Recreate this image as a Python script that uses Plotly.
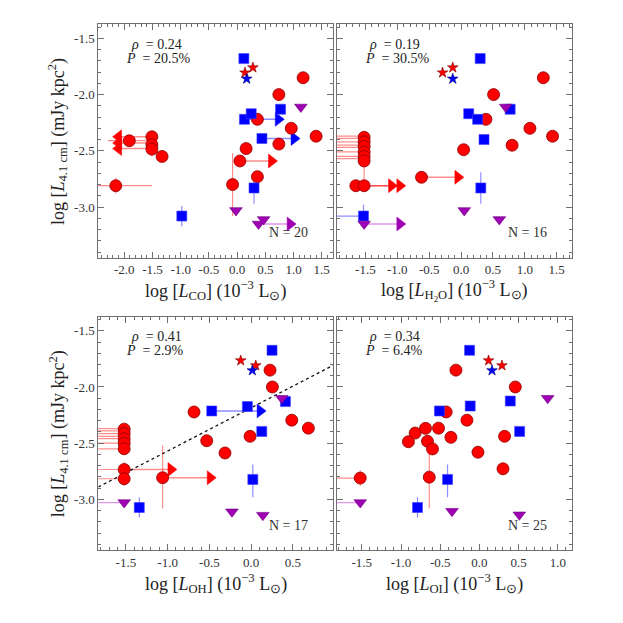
import plotly.graph_objects as go

# ---------- data ----------
y_ticks = [-3.0, -2.5, -2.0, -1.5]

# panel 1 : log L_CO
co_circ_x = [1.17, 0.74, 0.36, 0.96, 1.40, 0.74, 0.16, 0.05, -0.08, 0.36, -1.91, -1.51, -1.51, -1.51, -1.33, -2.15]
co_circ_y = [-1.85, -2.00, -2.22, -2.30, -2.37, -2.44, -2.48, -2.59, -2.80, -2.73, -2.41, -2.375, -2.445, -2.485, -2.55, -2.81]
co_sq_x = [0.12, 0.13, 0.25, 0.77, 0.44, 0.30, -0.98]
co_sq_y = [-1.68, -2.22, -2.17, -2.13, -2.39, -2.83, -3.08]
co_tri_x = [1.13, -0.02, 0.38, 0.47]
co_tri_y = [-2.11, -3.03, -3.15, -3.11]
co_rstar_x = [0.14, 0.28]
co_rstar_y = [-1.805, -1.76]
co_bstar_x = [0.17]
co_bstar_y = [-1.86]
# arrows (y, from x, to x)
co_arr_red = [(-2.59, 0.05, 0.61)]
co_arr_blue = [(-2.22, 0.13, 0.73), (-2.39, 0.44, 1.01)]
co_arr_pur = [(-3.15, 0.47, 0.94)]
co_arr_left = [(-2.375, -1.51, -2.10), (-2.43, -1.51, -2.10), (-2.48, -1.51, -2.10)]
# error bars: vertical (x, ylo, yhi), horizontal (y, xlo, xhi)
co_ev_red = [(0.16, -2.52, -2.44), (-0.08, -3.08, -2.52), (0.36, -2.78, -2.68), (-2.15, -2.88, -2.74), (-1.51, -2.55, -2.485)]
co_eh_red = [(-2.81, -2.60, -1.51), (-2.41, -2.29, -1.51)]
co_ev_blue = [(0.30, -2.97, -2.69), (-0.98, -3.17, -2.99)]
co_eh_blue = []
co_eh_pur = []

# panel 2 : log L_H2O
h2o_circ_x = [1.29, 0.51, 0.39, 1.08, 1.435, 0.80, 0.04, -0.62, -1.65, -1.52, -1.52, -1.52, -1.52, -1.52, -1.52, -1.52]
h2o_circ_y = [-1.85, -2.00, -2.22, -2.30, -2.37, -2.45, -2.49, -2.735, -2.81, -2.81, -2.38, -2.42, -2.46, -2.51, -2.55, -2.59]
h2o_sq_x = [0.30, 0.12, 0.26, 0.77, 0.36, 0.31, -1.53]
h2o_sq_y = [-1.68, -2.17, -2.22, -2.13, -2.40, -2.83, -3.08]
h2o_tri_x = [0.70, 0.05, 0.60, -1.52]
h2o_tri_y = [-2.11, -3.03, -3.11, -3.15]
h2o_rstar_x = [-0.29, -0.13]
h2o_rstar_y = [-1.805, -1.76]
h2o_bstar_x = [-0.13]
h2o_bstar_y = [-1.86]
h2o_arr_red = [(-2.735, -0.62, -0.05), (-2.81, -1.52, -1.09), (-2.81, -1.52, -0.96)]
h2o_arr_blue = []
h2o_arr_pur = [(-3.15, -1.52, -0.96)]
h2o_arr_left = []
h2o_ev_red = [(0.04, -2.53, -2.45), (-0.62, -2.78, -2.69), (-1.65, -2.86, -2.76), (-1.52, -2.81, -2.59)]
h2o_eh_red = [(-2.37, -2.5, -1.52), (-2.39, -2.5, -1.52), (-2.42, -2.5, -1.52), (-2.45, -2.5, -1.52),
              (-2.47, -2.5, -1.52), (-2.51, -2.5, -1.52), (-2.55, -2.5, -1.52), (-2.57, -2.5, -1.52)]
h2o_ev_blue = [(0.31, -2.97, -2.69), (-1.53, -3.08, -2.98)]
h2o_eh_blue = [(-3.08, -2.5, -1.53)]
h2o_eh_pur = []

# panel 3 : log L_OH
oh_circ_x = [0.226, 0.254, -0.684, 0.486, 0.685, -0.013, -0.532, -0.313, -1.52, -1.52, -1.52, -1.52, -1.52, -1.52, -1.52, -1.06]
oh_circ_y = [-1.85, -2.00, -2.222, -2.295, -2.366, -2.439, -2.478, -2.587, -2.375, -2.415, -2.46, -2.50, -2.55, -2.734, -2.816, -2.807]
oh_sq_x = [0.25, -0.472, -0.045, 0.41, 0.127, 0.02, -1.339]
oh_sq_y = [-1.674, -2.213, -2.174, -2.13, -2.395, -2.822, -3.072]
oh_tri_x = [0.366, -1.52, -0.23, 0.14]
oh_tri_y = [-2.10, -3.028, -3.11, -3.14]
oh_rstar_x = [-0.125, 0.055]
oh_rstar_y = [-1.765, -1.809]
oh_bstar_x = [0.014]
oh_bstar_y = [-1.853]
oh_arr_red = [(-2.734, -1.52, -0.96), (-2.807, -1.06, -0.49)]
oh_arr_blue = [(-2.213, -0.472, 0.107)]
oh_arr_pur = []
oh_arr_left = []
oh_ev_red = [(-1.52, -2.79, -2.67), (-1.52, -2.88, -2.75), (-1.06, -3.08, -2.52), (-0.313, -2.63, -2.55)]
oh_eh_red = [(-2.37, -2.5, -1.52), (-2.39, -2.5, -1.52), (-2.415, -2.5, -1.52), (-2.44, -2.5, -1.52),
             (-2.46, -2.5, -1.52), (-2.50, -2.5, -1.52), (-2.55, -2.5, -1.52), (-2.734, -2.5, -1.52), (-2.816, -2.5, -1.52)]
oh_ev_blue = [(0.02, -2.98, -2.69), (-1.339, -3.16, -2.98)]
oh_eh_blue = [(-3.072, -1.40, -1.28)]
oh_eh_pur = [(-3.028, -2.5, -1.52)]
oh_fit_slope = 0.385
oh_fit_icpt = -2.185

# panel 4 : log L_OI
oi_circ_x = [-0.30, 0.457, -0.424, -0.16, -0.82, -0.688, -0.522, -0.906, -0.663, -0.364, -0.599, -0.019, 0.32, 0.30, -0.64, -1.52]
oi_circ_y = [-1.85, -2.00, -2.222, -2.295, -2.41, -2.368, -2.366, -2.487, -2.483, -2.448, -2.551, -2.58, -2.439, -2.728, -2.802, -2.81]
oi_sq_x = [-0.126, -0.118, -0.51, 0.393, 0.512, -0.407, -0.79]
oi_sq_y = [-1.674, -2.169, -2.213, -2.125, -2.395, -2.822, -3.072]
oi_tri_x = [0.87, -1.52, -0.35, 0.508]
oi_tri_y = [-2.10, -3.028, -3.105, -3.137]
oi_rstar_x = [0.116, 0.287]
oi_rstar_y = [-1.765, -1.809]
oi_bstar_x = [0.16]
oi_bstar_y = [-1.853]
oi_arr_red = []
oi_arr_blue = []
oi_arr_pur = []
oi_arr_left = []
oi_ev_red = [(-0.64, -3.08, -2.55), (0.30, -2.78, -2.68), (-0.906, -2.53, -2.45), (-0.019, -2.62, -2.54), (-1.52, -2.88, -2.74)]
oi_eh_red = [(-2.81, -2.5, -1.52)]
oi_ev_blue = [(-0.407, -2.98, -2.69), (-0.79, -3.16, -2.98)]
oi_eh_blue = []
oi_eh_pur = [(-3.028, -2.5, -1.52)]

stats = [("0.24", "20.5%", "20"), ("0.19", "30.5%", "16"), ("0.41", "2.9%", "17"), ("0.34", "6.4%", "25")]
x_ranges = [[-2.46, 1.70], [-1.95, 1.74], [-1.83, 0.98], [-1.82, 1.18]]
x_ticks = [[-2.0, -1.5, -1.0, -0.5, 0.0, 0.5, 1.0, 1.5],
           [-1.5, -1.0, -0.5, 0.0, 0.5, 1.0, 1.5],
           [-1.5, -1.0, -0.5, 0.0, 0.5],
           [-1.5, -1.0, -0.5, 0.0, 0.5, 1.0]]
x_names = ["CO", "H<sub>2</sub>O", "OH", "OI"]

# ---------- styling ----------
RED = "#ff0000"
BLUE = "#0000ff"
PUR = "#a000b4"
LRED = "rgba(255,0,0,0.45)"
LBLUE = "rgba(0,0,255,0.45)"
LPUR = "rgba(200,80,220,0.6)"
FONT = "Liberation Serif"
FRAME = "#707070"

panels = [
    dict(cx=co_circ_x, cy=co_circ_y, sx=co_sq_x, sy=co_sq_y, tx=co_tri_x, ty=co_tri_y,
         rsx=co_rstar_x, rsy=co_rstar_y, bsx=co_bstar_x, bsy=co_bstar_y,
         ar=co_arr_red, ab=co_arr_blue, ap=co_arr_pur, al=co_arr_left,
         evr=co_ev_red, ehr=co_eh_red, evb=co_ev_blue, ehb=co_eh_blue, ehp=co_eh_pur),
    dict(cx=h2o_circ_x, cy=h2o_circ_y, sx=h2o_sq_x, sy=h2o_sq_y, tx=h2o_tri_x, ty=h2o_tri_y,
         rsx=h2o_rstar_x, rsy=h2o_rstar_y, bsx=h2o_bstar_x, bsy=h2o_bstar_y,
         ar=h2o_arr_red, ab=h2o_arr_blue, ap=h2o_arr_pur, al=h2o_arr_left,
         evr=h2o_ev_red, ehr=h2o_eh_red, evb=h2o_ev_blue, ehb=h2o_eh_blue, ehp=h2o_eh_pur),
    dict(cx=oh_circ_x, cy=oh_circ_y, sx=oh_sq_x, sy=oh_sq_y, tx=oh_tri_x, ty=oh_tri_y,
         rsx=oh_rstar_x, rsy=oh_rstar_y, bsx=oh_bstar_x, bsy=oh_bstar_y,
         ar=oh_arr_red, ab=oh_arr_blue, ap=oh_arr_pur, al=oh_arr_left,
         evr=oh_ev_red, ehr=oh_eh_red, evb=oh_ev_blue, ehb=oh_eh_blue, ehp=oh_eh_pur),
    dict(cx=oi_circ_x, cy=oi_circ_y, sx=oi_sq_x, sy=oi_sq_y, tx=oi_tri_x, ty=oi_tri_y,
         rsx=oi_rstar_x, rsy=oi_rstar_y, bsx=oi_bstar_x, bsy=oi_bstar_y,
         ar=oi_arr_red, ab=oi_arr_blue, ap=oi_arr_pur, al=oi_arr_left,
         evr=oi_ev_red, ehr=oi_eh_red, evb=oi_ev_blue, ehb=oi_eh_blue, ehp=oi_eh_pur),
]


def seg_v(items):
    xs, ys = [], []
    for x, y0, y1 in items:
        xs += [x, x, None]
        ys += [y0, y1, None]
    return xs, ys


def seg_h(items):
    xs, ys = [], []
    for y, x0, x1 in items:
        xs += [x0, x1, None]
        ys += [y, y, None]
    return xs, ys


fig = go.Figure()

for i, p in enumerate(panels):
    n = "" if i == 0 else str(i + 1)
    xa, ya = "x" + n, "y" + n

    def line(xs, ys, col, w=1.2, dash=None):
        fig.add_trace(go.Scatter(x=xs, y=ys, mode="lines", xaxis=xa, yaxis=ya,
                                 line=dict(color=col, width=w, dash=dash), hoverinfo="skip"))

    def mark(xs, ys, sym, size, col, edge, ew=0.8):
        fig.add_trace(go.Scatter(x=xs, y=ys, mode="markers", xaxis=xa, yaxis=ya,
                                 marker=dict(symbol=sym, size=size, color=col,
                                             line=dict(color=edge, width=ew))))

    # error bars / limit lines
    for items, col, fn in [(p["evr"], LRED, seg_v), (p["ehr"], LRED, seg_h),
                           (p["evb"], LBLUE, seg_v), (p["ehb"], LBLUE, seg_h),
                           (p["ehp"], LPUR, seg_h)]:
        if items:
            xs, ys = fn(items)
            line(xs, ys, col)

    # arrows
    for items, col, head, sym in [(p["ar"], LRED, RED, "triangle-right"),
                                  (p["ab"], LBLUE, BLUE, "triangle-right"),
                                  (p["ap"], LPUR, PUR, "triangle-right"),
                                  (p["al"], LRED, RED, "triangle-left")]:
        if items:
            xs, ys = seg_h(items)
            line(xs, ys, col, 1.5)
            mark([a[2] for a in items], [a[0] for a in items], sym, 12, head, head, 0.5)

    if i == 2:
        xr = x_ranges[2]
        line([xr[0], xr[1]], [oh_fit_icpt + oh_fit_slope * xr[0], oh_fit_icpt + oh_fit_slope * xr[1]],
             "#111111", 1.3, "dot")

    mark(p["cx"], p["cy"], "circle", 12, RED, "#8a0000")
    mark(p["sx"], p["sy"], "square", 10, BLUE, "#4040ff", 0.6)
    mark(p["tx"], p["ty"], "triangle-down", 11, PUR, "#6a0080", 0.6)
    mark(p["rsx"], p["rsy"], "star", 8, RED, "#7a0000", 0.6)
    mark(p["bsx"], p["bsy"], "star", 8, BLUE, "#00007a", 0.6)

    rho, pv, nn = stats[i]
    fig.add_annotation(xref=xa + " domain", yref=ya + " domain", x=0.13, y=0.915,
                       text="<i>ρ</i>  = " + rho, showarrow=False, xanchor="left", yanchor="middle",
                       font=dict(family=FONT, size=14, color="#222"))
    fig.add_annotation(xref=xa + " domain", yref=ya + " domain", x=0.11, y=0.855,
                       text="<i>P</i>  = " + pv, showarrow=False, xanchor="left", yanchor="middle",
                       font=dict(family=FONT, size=14, color="#222"))
    fig.add_annotation(xref=xa + " domain", yref=ya + " domain", x=0.81, y=0.107,
                       text="N = " + nn, showarrow=False, xanchor="center", yanchor="middle",
                       font=dict(family=FONT, size=14, color="#333"))

# page body has an 8px margin, so the figure is 615px and offset by 8px
x_dom = [[0.1468, 0.5285], [0.5345, 0.9171], [0.1468, 0.5285], [0.5345, 0.9171]]
y_dom = [[0.594, 0.9735], [0.594, 0.9735], [0.1187, 0.498], [0.1187, 0.498]]

layout = dict(width=615, height=615, margin=dict(l=0, r=0, t=0, b=0),
              paper_bgcolor="white", plot_bgcolor="white", showlegend=False,
              font=dict(family=FONT, size=13, color="#333"))

for i in range(4):
    n = "" if i == 0 else str(i + 1)
    common = dict(showline=True, linecolor=FRAME, linewidth=1, mirror="allticks",
                  ticks="inside", ticklen=6, tickcolor=FRAME, showgrid=False, zeroline=False,
                  tickfont=dict(family=FONT, size=13, color="#333"),
                  minor=dict(ticks="inside", ticklen=3, dtick=0.1, tick0=0, tickcolor=FRAME, showgrid=False))
    layout["xaxis" + n] = dict(common, domain=x_dom[i], range=x_ranges[i], anchor="y" + n,
                               tickmode="array", tickvals=x_ticks[i],
                               ticktext=["%.1f" % v for v in x_ticks[i]])
    layout["yaxis" + n] = dict(common, domain=y_dom[i], range=[-3.45, -1.375], anchor="x" + n,
                               tickmode="array", tickvals=y_ticks,
                               ticktext=["%.1f" % v for v in y_ticks],
                               showticklabels=(i % 2 == 0))

fig.update_layout(**layout)

# axis titles
x_title_y = [0.541, 0.541, 0.065, 0.065]
for i in range(4):
    xc = 0.5 * (x_dom[i][0] + x_dom[i][1])
    fig.add_annotation(xref="paper", yref="paper", x=xc, y=x_title_y[i], xanchor="center", yanchor="middle",
                       showarrow=False,
                       text="log [<i>L</i><sub>" + x_names[i] + "</sub>] (10<sup>−3</sup> L<sub>⊙</sub>)",
                       font=dict(family=FONT, size=18, color="#222"))
for r in [0, 2]:
    yc = 0.5 * (y_dom[r][0] + y_dom[r][1])
    fig.add_annotation(xref="paper", yref="paper", x=0.0813, y=yc, textangle=-90, showarrow=False,
                       xanchor="center", yanchor="middle",
                       text="log [<i>L</i><sub>4.1 cm</sub>] (mJy kpc<sup>2</sup>)",
                       font=dict(family=FONT, size=18, color="#222"))

fig.write_html("out.html")
